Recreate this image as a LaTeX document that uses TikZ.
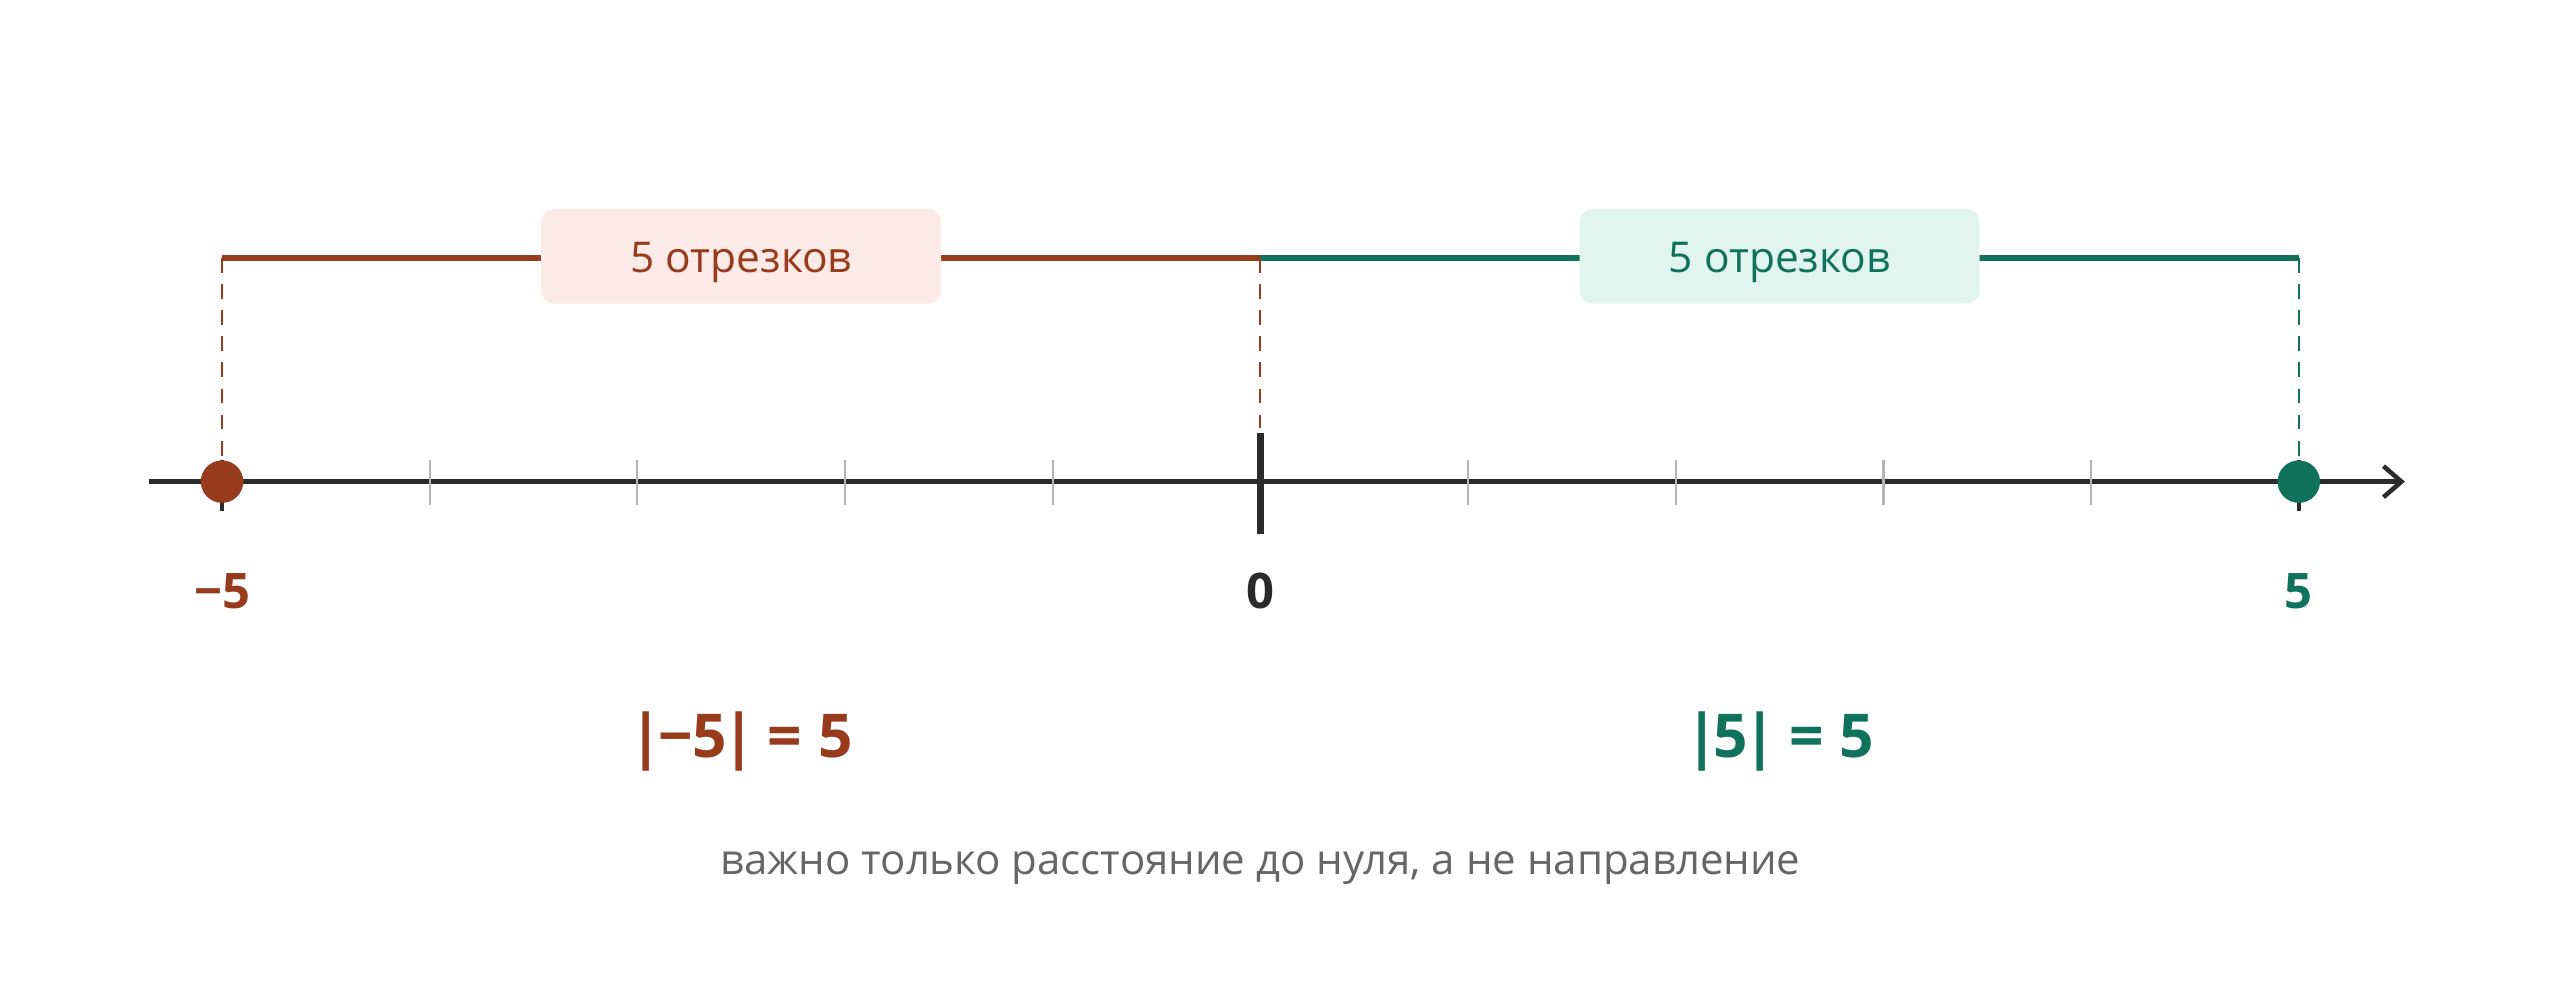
\documentclass[tikz,border=0pt]{standalone}
\usepackage{fontspec}
\setmainfont{Open Sans}
\usetikzlibrary{arrows.meta}
\definecolor{brn}{HTML}{983A1C}
\definecolor{grn}{HTML}{10725A}
\definecolor{brnbg}{HTML}{FBEAE5}
\definecolor{grnbg}{HTML}{E1F4EE}
\definecolor{axisc}{HTML}{2B2B2B}
\definecolor{tickc}{HTML}{B5B5B5}
\definecolor{capc}{HTML}{666666}
\begin{document}
\begin{tikzpicture}[x=1pt,y=-1pt,
  axisline/.style={draw=axisc,line width=3.2pt},
  minortick/.style={draw=tickc,line width=1.3pt},
  bracketb/.style={draw=brn,line width=3.4pt},
  bracketg/.style={draw=grn,line width=3.4pt},
  guide/.style={dashed,dash pattern=on 9pt off 7pt,line width=1.2pt},
  seglabel/.style={rounded corners=8pt,minimum width=245pt,minimum height=58pt,inner sep=0pt,font=\fontsize{26}{30}\selectfont},
  dotb/.style={circle,fill=brn,inner sep=0pt,minimum size=26pt},
  dotg/.style={circle,fill=grn,inner sep=0pt,minimum size=26pt},
  numlabel/.style={font=\fontsize{30}{34}\selectfont\bfseries},
  eqlabel/.style={font=\fontsize{37}{44}\selectfont\bfseries},
]
\useasboundingbox (0,0) rectangle (1568,614);
% axis
\coordinate (axL) at (91,295);
\coordinate (axR) at (1473,295);
\draw[axisline,-{Straight Barb[length=11pt,width=19pt,line width=2.8pt]}] (axL) -- (axR);
% minor ticks
\foreach \i in {1,2,3,4,6,7,8,9}{
  \coordinate (t\i a) at ({136+127.2*\i},282);
  \coordinate (t\i b) at ({136+127.2*\i},309);
  \draw[minortick] (t\i a) -- (t\i b);
}
% zero tick
\coordinate (z0a) at (772,265);
\coordinate (z0b) at (772,327);
\draw[draw=axisc,line width=4pt] (z0a) -- (z0b);
% end ticks
\coordinate (eLa) at (136,282);
\coordinate (eLb) at (136,313);
\coordinate (eRa) at (1408,282);
\coordinate (eRb) at (1408,313);
\draw[draw=axisc,line width=2.2pt] (eLa) -- (eLb);
\draw[draw=axisc,line width=2.2pt] (eRa) -- (eRb);
% bracket lines
\coordinate (bL) at (136,158);
\coordinate (bM) at (772,158);
\coordinate (bR) at (1408,158);
\draw[bracketb] (bL) -- (bM);
\draw[bracketg] (bM) -- (bR);
% guides
\coordinate (gL) at (136,281);
\coordinate (gM) at (772,262);
\coordinate (gR) at (1408,281);
\draw[guide,draw=brn] (bL) -- (gL);
\draw[guide,draw=brn] (bM) -- (gM);
\draw[guide,draw=grn] (bR) -- (gR);
% segment labels
\node[seglabel,fill=brnbg,text=brn] (segL) at (454,157) {\raisebox{-4pt}[\height][\depth]{5 отрезков}};
\node[seglabel,fill=grnbg,text=grn] (segR) at (1090,157) {\raisebox{-4pt}[\height][\depth]{5 отрезков}};
% dots
\node[dotb] (pL) at (136,295) {};
\node[dotg] (pR) at (1408,295) {};
% number labels
\node[numlabel,text=brn] (nL) at (136,362) {−5};
\node[numlabel,text=axisc] (n0) at (772,362) {0};
\node[numlabel,text=grn] (nR) at (1408,362) {5};
% equations
\node[eqlabel,text=brn] (eqL) at (454,454) {|\kern-3pt−5\kern-3pt|\kern-2pt{} = 5};
\node[eqlabel,text=grn] (eqR) at (1090,454) {|\kern-3pt5\kern-3pt|\kern-2pt{} = 5};
% caption
\node[font=\fontsize{25.7}{30}\selectfont,text=capc] (cap) at (772,532) {важно только расстояние до нуля, а не направление};
\end{tikzpicture}
\end{document}
